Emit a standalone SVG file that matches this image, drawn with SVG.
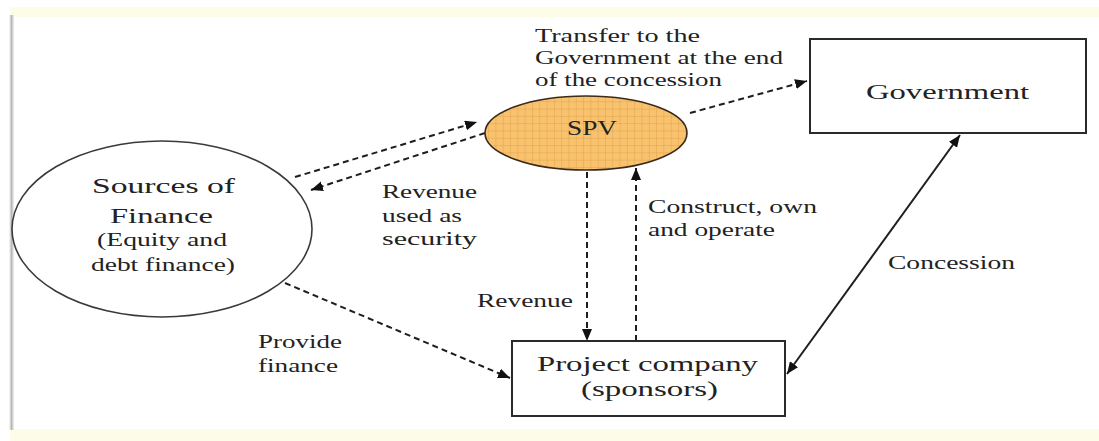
<svg xmlns="http://www.w3.org/2000/svg" width="1099" height="441" viewBox="0 0 1099 441">
  <defs>
    <style>
      text { font-family: "Liberation Serif", "Times New Roman", "DejaVu Serif", serif; fill: #222; }
      .title { font-size: 21.5px; }
      .lbl { font-size: 18.5px; }
      .box { fill: #fff; stroke: #2a2a2a; stroke-width: 2; }
      .oval { fill: #fff; stroke: #3a3a3a; stroke-width: 1.6; }
      .dash { fill: none; stroke: #1e1e1e; stroke-width: 2; stroke-dasharray: 6 4; }
      .solid { fill: none; stroke: #1e1e1e; stroke-width: 2; }
    </style>
    <pattern id="grid" width="7.3" height="7.3" patternUnits="userSpaceOnUse">
      <rect width="7.3" height="7.3" fill="#f8c26e"/>
      <path d="M7.3,0 V7.3 M0,7.3 H7.3" stroke="#dc9a45" stroke-width="0.8" fill="none"/>
    </pattern>
    <marker id="arrow" markerUnits="userSpaceOnUse" markerWidth="13" markerHeight="11" refX="12" refY="5" orient="auto-start-reverse">
      <path d="M0,0 L12,5 L0,10 z" fill="#111"/>
    </marker>
    <clipPath id="cut">
      <rect x="380" y="246" width="40" height="9"/>
    </clipPath>
    <linearGradient id="edge" x1="0" x2="1" y1="0" y2="0">
      <stop offset="0" stop-color="#ffffff"/>
      <stop offset="0.5" stop-color="#b8b8b8"/>
      <stop offset="1" stop-color="#f2f2f2"/>
    </linearGradient>
  </defs>

  <!-- page background with tinted bands and left shadow -->
  <rect width="1099" height="441" fill="#ffffff"/>
  <rect x="10" y="7" width="1089" height="10" fill="#fcfce9"/>
  <rect x="10" y="429" width="1089" height="12" fill="#fcfce9"/>
  <rect x="9" y="15" width="5" height="415" fill="url(#edge)"/>

  <!-- connectors -->
  <g id="connectors">
    <path class="dash" d="M295,177 L477,122" marker-end="url(#arrow)"/>
    <path class="dash" d="M485,133 L311,190" marker-end="url(#arrow)"/>
    <path class="dash" d="M690,113 L807,81" marker-end="url(#arrow)"/>
    <path class="dash" d="M587,172 L587,341" marker-end="url(#arrow)"/>
    <path class="dash" d="M636,341 L636,168" marker-end="url(#arrow)"/>
    <path class="dash" d="M285,283 L510,378" marker-end="url(#arrow)"/>
    <path class="solid" d="M787,374 L960,135" marker-start="url(#arrow)" marker-end="url(#arrow)"/>
  </g>

  <!-- nodes -->
  <g id="sources" font-family="Liberation Serif, serif">
    <ellipse class="oval" cx="162" cy="229" rx="150" ry="88"/>
    <text class="title" x="92" y="193" textLength="143" lengthAdjust="spacingAndGlyphs">Sources of</text>
    <text class="title" x="110" y="223" textLength="103" lengthAdjust="spacingAndGlyphs">Finance</text>
    <text class="lbl" x="97" y="246" textLength="130" lengthAdjust="spacingAndGlyphs">(Equity and</text>
    <text class="lbl" x="91" y="271" textLength="144" lengthAdjust="spacingAndGlyphs">debt finance)</text>
  </g>

  <g id="spv">
    <ellipse cx="586" cy="133" rx="101" ry="37" fill="url(#grid)" stroke="#3a2a1a" stroke-width="1.6"/>
    <text x="567" y="135" font-size="21" textLength="50" lengthAdjust="spacingAndGlyphs">SPV</text>
  </g>

  <g id="government">
    <rect class="box" x="810" y="39" width="276" height="94"/>
    <text class="title" x="866" y="99" textLength="163" lengthAdjust="spacingAndGlyphs">Government</text>
  </g>

  <g id="project-company">
    <rect class="box" x="512" y="341" width="273" height="75"/>
    <text class="title" x="537" y="371" textLength="221" lengthAdjust="spacingAndGlyphs">Project company</text>
    <text class="title" x="581" y="396" textLength="137" lengthAdjust="spacingAndGlyphs">(sponsors)</text>
  </g>

  <!-- connector labels -->
  <g id="labels">
    <text class="lbl" x="535" y="42" textLength="165" lengthAdjust="spacingAndGlyphs">Transfer to the</text>
    <text class="lbl" x="535" y="64" textLength="248" lengthAdjust="spacingAndGlyphs">Government at the end</text>
    <text class="lbl" x="535" y="86" textLength="187" lengthAdjust="spacingAndGlyphs">of the concession</text>

    <text class="lbl" x="382" y="198" textLength="95" lengthAdjust="spacingAndGlyphs">Revenue</text>
    <text class="lbl" x="382" y="222" textLength="80" lengthAdjust="spacingAndGlyphs">used as</text>
    <text class="lbl" x="382" y="245" textLength="95" lengthAdjust="spacingAndGlyphs">security</text>
    <text class="lbl" x="388" y="266" clip-path="url(#cut)" textLength="12" lengthAdjust="spacingAndGlyphs">o</text>

    <text class="lbl" x="648" y="213" textLength="169" lengthAdjust="spacingAndGlyphs">Construct, own</text>
    <text class="lbl" x="648" y="236" textLength="127" lengthAdjust="spacingAndGlyphs">and operate</text>

    <text class="lbl" x="888" y="269" textLength="127" lengthAdjust="spacingAndGlyphs">Concession</text>

    <text class="lbl" x="477" y="307" textLength="96" lengthAdjust="spacingAndGlyphs">Revenue</text>

    <text class="lbl" x="258" y="348" textLength="84" lengthAdjust="spacingAndGlyphs">Provide</text>
    <text class="lbl" x="258" y="372" textLength="80" lengthAdjust="spacingAndGlyphs">finance</text>
  </g>
</svg>
